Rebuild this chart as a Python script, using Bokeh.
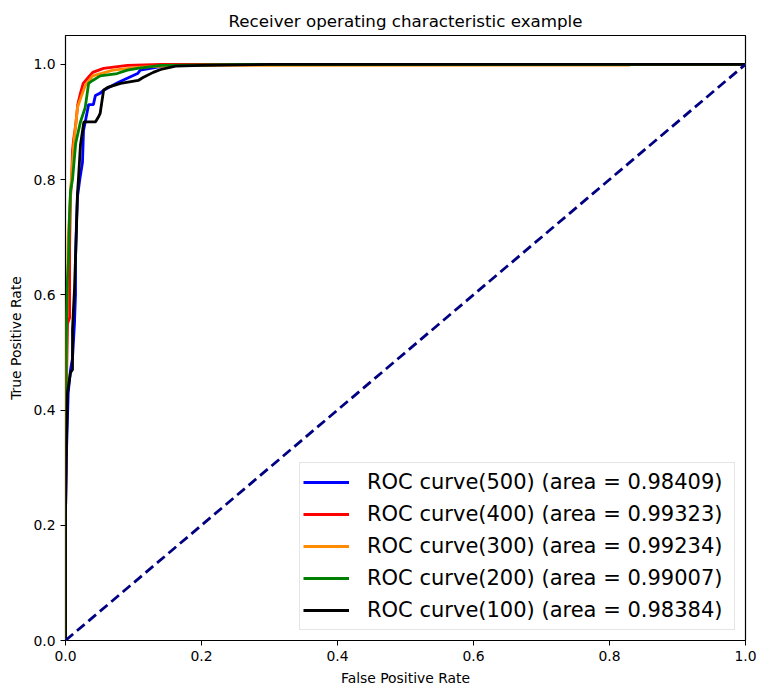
from bokeh.plotting import figure
from bokeh.models import Range1d, Legend, LegendItem, FixedTicker, PrintfTickFormatter
from bokeh.embed import file_html
from bokeh.resources import INLINE

# ROC curve corner points (false positive rate, true positive rate) per model
fpr_500 = [0, 0, 0.0015, 0.004, 0.0074, 0.0103, 0.0132, 0.0147, 0.0147, 0.016, 0.0176, 0.021,
           0.025, 0.0265, 0.029, 0.034, 0.041, 0.044, 0.051, 0.056, 0.078, 0.106, 0.110, 0.125,
           0.15, 0.27, 1.0]
tpr_500 = [0, 0.22, 0.33, 0.43, 0.47, 0.49, 0.55, 0.60, 0.66, 0.72, 0.77, 0.80,
           0.83, 0.885, 0.90, 0.93, 0.93, 0.946, 0.95, 0.955, 0.969, 0.984, 0.99, 0.993,
           0.998, 1.0, 1.0]

fpr_400 = [0, 0, 0.0015, 0.003, 0.006, 0.006, 0.0074, 0.009, 0.0103, 0.012, 0.015, 0.018,
           0.022, 0.026, 0.034, 0.04, 0.056, 0.091, 0.14, 1.0]
tpr_400 = [0, 0.20, 0.45, 0.55, 0.56, 0.68, 0.77, 0.80, 0.85, 0.87, 0.895, 0.93,
           0.95, 0.967, 0.978, 0.986, 0.993, 0.998, 1.0, 1.0]

fpr_300 = [0, 0, 0.0015, 0.003, 0.004, 0.006, 0.0074, 0.0103, 0.012, 0.0176, 0.022, 0.029,
           0.04, 0.07, 0.11, 0.17, 0.83, 0.83, 1.0]
tpr_300 = [0, 0.30, 0.55, 0.63, 0.70, 0.74, 0.78, 0.83, 0.86, 0.925, 0.94, 0.963,
           0.98, 0.99, 0.995, 0.998, 0.9987, 1.0, 1.0]

fpr_200 = [0, 0, 0.0015, 0.003, 0.0044, 0.0059, 0.0074, 0.0103, 0.015, 0.022, 0.029, 0.034,
           0.04, 0.051, 0.076, 0.091, 0.106, 0.14, 0.27, 1.0]
tpr_200 = [0, 0.35, 0.55, 0.63, 0.66, 0.74, 0.78, 0.80, 0.863, 0.90, 0.925, 0.967,
           0.972, 0.98, 0.984, 0.99, 0.993, 0.998, 1.0, 1.0]

fpr_100 = [0, 0, 0.0015, 0.0029, 0.0074, 0.0103, 0.0103, 0.0132, 0.016, 0.0176, 0.019, 0.022,
           0.027, 0.044, 0.049, 0.051, 0.056, 0.062, 0.081, 0.107, 0.114, 0.129, 0.140, 0.162,
           0.2, 0.30, 1.0]
tpr_100 = [0, 0.22, 0.35, 0.43, 0.465, 0.47, 0.54, 0.61, 0.71, 0.776, 0.80, 0.86,
           0.90, 0.90, 0.91, 0.915, 0.955, 0.96, 0.967, 0.972, 0.977, 0.986, 0.991, 0.997,
           0.998, 1.0, 1.0]

labels = ["ROC curve(500) (area = 0.98409)",
          "ROC curve(400) (area = 0.99323)",
          "ROC curve(300) (area = 0.99234)",
          "ROC curve(200) (area = 0.99007)",
          "ROC curve(100) (area = 0.98384)"]
colors = ["blue", "red", "darkorange", "green", "black"]
curves = [(fpr_500, tpr_500), (fpr_400, tpr_400), (fpr_300, tpr_300),
          (fpr_200, tpr_200), (fpr_100, tpr_100)]

chance_x = [0, 1]
chance_y = [0, 1]

tick_values = [0, 0.2, 0.4, 0.6, 0.8, 1.0]

FONT = "DejaVu Sans"

p = figure(frame_width=680, frame_height=605,
           x_range=Range1d(0, 1), y_range=Range1d(0, 1.05),
           output_backend="svg", toolbar_location=None,
           title="Receiver operating characteristic example",
           min_border_left=65, min_border_right=14, min_border_top=35, min_border_bottom=45)

p.background_fill_color = "white"
p.border_fill_color = "white"
p.outline_line_color = "black"
p.outline_line_width = 1.2
p.grid.visible = False

p.title.align = "center"
p.title.text_font = FONT
p.title.text_font_size = "16.7px"
p.title.text_font_style = "normal"
p.title.text_color = "black"

for ax in (p.xaxis[0], p.yaxis[0]):
    ax.ticker = FixedTicker(ticks=tick_values)
    ax.formatter = PrintfTickFormatter(format="%.1f")
    ax.minor_tick_line_color = None
    ax.major_tick_in = 0
    ax.major_tick_out = 5
    ax.major_tick_line_color = "black"
    ax.axis_line_color = None
    ax.major_label_text_font = FONT
    ax.major_label_text_font_size = "13.9px"
    ax.major_label_text_color = "black"
    ax.major_label_standoff = 5
    ax.axis_label_text_font = FONT
    ax.axis_label_text_font_size = "13.9px"
    ax.axis_label_text_font_style = "normal"
    ax.axis_label_text_color = "black"
    ax.axis_label_standoff = 6

p.xaxis.axis_label = "False Positive Rate"
p.yaxis.axis_label = "True Positive Rate"

items = []
for (fx, ty), c, lab in zip(curves, colors, labels):
    r = p.line(fx, ty, line_color=c, line_width=2.8)
    items.append(LegendItem(label=lab, renderers=[r]))

p.line(chance_x, chance_y, line_color="navy", line_width=2.8, line_dash="10 5")

legend = Legend(items=items, location="bottom_right")
legend.label_text_font = FONT
legend.label_text_font_size = "21px"
legend.label_text_color = "black"
legend.label_height = 32
legend.glyph_height = 32
legend.glyph_width = 46
legend.label_standoff = 18
legend.label_width = 364
legend.spacing = 0
legend.padding = 3
legend.margin = 10
legend.border_line_color = "#cccccc"
legend.border_line_width = 1
legend.background_fill_color = "white"
legend.background_fill_alpha = 0.8
p.add_layout(legend)

open("out.html", "w").write(file_html(p, INLINE))
